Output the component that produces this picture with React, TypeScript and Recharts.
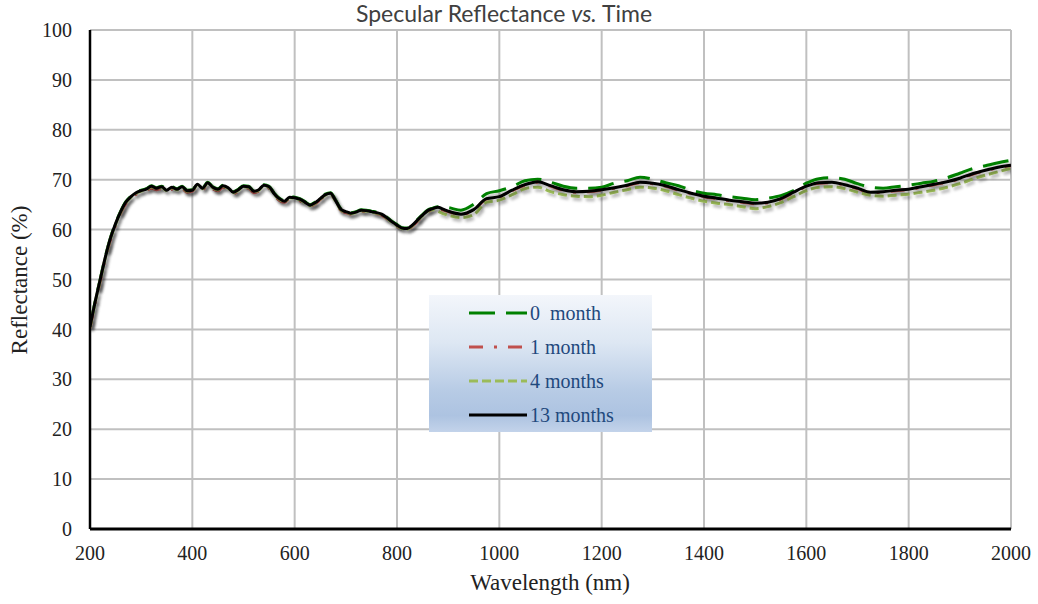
import React from "react";
import { LineChart, Line, XAxis, YAxis, CartesianGrid } from "recharts";

// wavelength (nm): 10 nm steps up to 890, then 25 nm steps
const wavelength = [
  200, 210, 220, 230, 240, 250, 260, 270, 280, 290,
  300, 310, 320, 330, 340, 350, 360, 370, 380, 390,
  400, 410, 420, 430, 440, 450, 460, 470, 480, 490,
  500, 510, 520, 530, 540, 550, 560, 570, 580, 590,
  600, 610, 620, 630, 640, 650, 660, 670, 680, 690,
  700, 710, 720, 730, 740, 750, 760, 770, 780, 790,
  800, 810, 820, 830, 840, 850, 860, 870, 880, 890,
  900, 925, 950, 975, 1000, 1025, 1050, 1075, 1100, 1125,
  1150, 1175, 1200, 1225, 1250, 1275, 1300, 1325, 1350, 1375,
  1400, 1425, 1450, 1475, 1500, 1525, 1550, 1575, 1600, 1625,
  1650, 1675, 1700, 1725, 1750, 1775, 1800, 1825, 1850, 1875,
  1900, 1925, 1950, 1975, 2000,
];

const month0 = [
  40.6, 45.6, 50.1, 54.6, 58.4, 61.3, 63.7, 65.6, 66.7, 67.5,
  67.9, 68.2, 68.8, 68.4, 68.7, 68.0, 68.6, 68.2, 68.7, 67.9,
  68.0, 69.2, 68.4, 69.5, 68.6, 68.2, 68.9, 68.5, 67.6, 68.1,
  68.8, 68.7, 67.8, 68.1, 69.0, 68.7, 67.3, 66.3, 65.8, 66.6,
  66.5, 66.2, 65.6, 65.0, 65.5, 66.3, 67.1, 67.4, 65.9, 64.2,
  63.7, 63.4, 63.6, 64.0, 63.9, 63.7, 63.5, 63.2, 62.5, 61.7,
  61.0, 60.4, 60.3, 61.0, 62.0, 63.0, 63.9, 64.3, 64.6, 64.5,
  64.4, 63.9, 65.1, 67.2, 67.8, 68.6, 69.8, 70.1, 69.5, 68.7,
  68.3, 68.3, 68.5, 69.3, 69.8, 70.5, 70.1, 69.4, 68.8, 67.9,
  67.3, 67.0, 66.6, 66.3, 66.0, 66.3, 66.8, 67.8, 69.3, 70.2,
  70.4, 70.1, 69.2, 68.5, 68.3, 68.6, 68.9, 69.3, 69.7, 70.4,
  71.3, 72.2, 72.8, 73.4, 73.9,
];

const month1 = [
  40.3, 45.2, 49.7, 54.2, 58.0, 60.9, 63.3, 65.2, 66.3, 67.1,
  67.5, 67.8, 68.3, 68.0, 68.2, 67.6, 68.1, 67.8, 68.2, 67.5,
  67.7, 68.8, 68.0, 69.1, 68.2, 67.8, 68.5, 68.1, 67.2, 67.7,
  68.4, 68.3, 67.4, 67.7, 68.6, 68.3, 66.9, 65.9, 65.5, 66.2,
  66.1, 65.8, 65.2, 64.7, 65.2, 66.0, 66.8, 67.1, 65.6, 63.9,
  63.4, 63.1, 63.3, 63.7, 63.6, 63.4, 63.2, 62.9, 62.2, 61.4,
  60.7, 60.1, 60.0, 60.7, 61.7, 62.7, 63.6, 64.0, 64.3, 63.9,
  63.6, 63.0, 63.9, 66.1, 66.5, 67.8, 68.9, 69.5, 68.7, 67.9,
  67.5, 67.6, 67.9, 68.3, 68.8, 69.4, 69.2, 68.7, 67.9, 67.2,
  66.6, 66.2, 65.8, 65.5, 65.2, 65.4, 66.1, 67.4, 68.6, 69.3,
  69.4, 68.9, 68.2, 67.4, 67.5, 67.8, 68.0, 68.5, 69.0, 69.5,
  70.2, 71.1, 71.8, 72.4, 72.8,
];

const month4 = [
  40.4, 45.4, 49.9, 54.4, 58.2, 61.1, 63.5, 65.4, 66.5, 67.3,
  67.7, 68.0, 68.6, 68.2, 68.5, 67.8, 68.4, 68.0, 68.5, 67.7,
  67.8, 69.0, 68.2, 69.3, 68.4, 68.0, 68.7, 68.3, 67.4, 67.9,
  68.6, 68.5, 67.6, 67.9, 68.8, 68.5, 67.1, 66.1, 65.6, 66.4,
  66.3, 66.0, 65.4, 64.8, 65.3, 66.1, 66.9, 67.2, 65.7, 64.0,
  63.5, 63.2, 63.4, 63.8, 63.7, 63.5, 63.3, 63.0, 62.3, 61.5,
  60.8, 60.2, 60.1, 60.8, 61.8, 62.8, 63.7, 64.0, 63.7, 63.2,
  62.9, 62.4, 63.0, 65.5, 65.9, 67.0, 68.2, 68.5, 67.6, 67.0,
  66.7, 66.6, 66.9, 67.5, 68.0, 68.5, 68.3, 67.8, 67.0, 66.3,
  65.7, 65.3, 65.0, 64.6, 64.2, 64.6, 65.4, 66.6, 67.8, 68.5,
  68.6, 68.2, 67.5, 66.9, 66.7, 66.9, 67.1, 67.5, 67.9, 68.5,
  69.2, 70.1, 70.9, 71.6, 72.3,
];

const month13 = [
  40.5, 45.5, 50.0, 54.5, 58.3, 61.2, 63.6, 65.5, 66.6, 67.4,
  67.8, 68.1, 68.7, 68.3, 68.6, 67.9, 68.5, 68.1, 68.6, 67.8,
  67.9, 69.1, 68.3, 69.4, 68.5, 68.1, 68.8, 68.4, 67.5, 68.0,
  68.7, 68.6, 67.7, 68.0, 68.9, 68.6, 67.2, 66.2, 65.7, 66.5,
  66.4, 66.1, 65.5, 64.9, 65.4, 66.2, 67.0, 67.3, 65.8, 64.1,
  63.6, 63.3, 63.5, 63.9, 63.8, 63.6, 63.4, 63.1, 62.4, 61.6,
  60.9, 60.3, 60.2, 60.9, 61.9, 62.9, 63.8, 64.2, 64.5, 64.1,
  63.7, 63.1, 64.0, 66.2, 66.6, 67.9, 69.0, 69.6, 68.8, 68.0,
  67.6, 67.7, 68.0, 68.4, 68.9, 69.5, 69.3, 68.8, 68.0, 67.3,
  66.7, 66.3, 65.9, 65.6, 65.3, 65.5, 66.2, 67.5, 68.7, 69.4,
  69.5, 69.0, 68.3, 67.5, 67.6, 67.9, 68.1, 68.6, 69.1, 69.6,
  70.3, 71.2, 71.9, 72.5, 72.9,
];

const xTicks = [200, 400, 600, 800, 1000, 1200, 1400, 1600, 1800, 2000];
const yTicks = [0, 10, 20, 30, 40, 50, 60, 70, 80, 90, 100];

const series = [
  { key: "m0", name: "0  month", color: "#008000", dash: "26 11" },
  { key: "m1", name: "1 month", color: "#c0504d", dash: "14 11 3 11" },
  { key: "m4", name: "4 months", color: "#9bbb59", dash: "9 4" },
  { key: "m13", name: "13 months", color: "#000000", dash: undefined as string | undefined },
];

const data = wavelength.map((w, i) => ({
  w,
  m0: month0[i],
  m1: month1[i],
  m4: month4[i],
  m13: month13[i],
}));

const serif = "Liberation Serif, DejaVu Serif, serif";

const LegendBox = () => (
  <div
    style={{
      position: "absolute",
      left: 429,
      top: 295,
      width: 223,
      height: 137,
      boxSizing: "border-box",
      background: "linear-gradient(#f3f6fb 0%, #dde7f3 35%, #b7cbe5 70%, #adc3e1 88%, #c3d3ea 100%)",
      paddingTop: 1,
    }}
  >
    {series.map((s) => (
      <div key={s.key} style={{ display: "flex", alignItems: "center", height: 34 }}>
        <svg width={101} height={10} style={{ display: "block" }}>
          <line x1={40} y1={5} x2={98} y2={5} stroke={s.color} strokeWidth={3} strokeDasharray={s.dash} />
        </svg>
        <span style={{ fontFamily: serif, fontSize: 20, color: "#1f497d", whiteSpace: "pre" }}>{s.name}</span>
      </div>
    ))}
  </div>
);

const App: React.FC = () => (
  <div style={{ position: "absolute", left: 0, top: 0, width: 1038, height: 604, background: "#fff" }}>
    <style>{`.recharts-line-curve { filter: url(#lineShadow); }`}</style>
    <svg width={0} height={0} style={{ position: "absolute" }}>
      <defs>
        <filter id="lineShadow" x="-10%" y="-10%" width="120%" height="130%">
          <feDropShadow dx="2" dy="3" stdDeviation="1.8" floodColor="#000" floodOpacity="0.3" />
        </filter>
      </defs>
    </svg>
    <div
      style={{
        position: "absolute",
        left: 0,
        width: 1038,
        top: 0,
        textAlign: "center",
        fontFamily: "Lato, 'Open Sans', sans-serif",
        fontSize: 23,
        color: "#404040",
        lineHeight: "26px",
        transform: "translateX(-15px)",
      }}
    >
      Specular Reflectance <i>vs.</i> Time
    </div>
    <LineChart width={1038} height={604} data={data} margin={{ top: 30, right: 27, bottom: 0, left: 0 }}>
      <CartesianGrid stroke="#c0c0c0" strokeWidth={2} horizontalValues={yTicks} verticalValues={xTicks} />
      <XAxis
        dataKey="w"
        type="number"
        domain={[200, 2000]}
        ticks={xTicks}
        height={75}
        tickLine={false}
        tickSize={0}
        tickMargin={17}
        axisLine={{ stroke: "#000", strokeWidth: 3 }}
        tick={{ fontFamily: serif, fontSize: 20, fill: "#222" }}
        allowDataOverflow
      />
      <YAxis
        type="number"
        domain={[0, 100]}
        ticks={yTicks}
        width={90}
        tickLine={false}
        tickSize={0}
        tickMargin={18}
        axisLine={{ stroke: "#000", strokeWidth: 2.5 }}
        tick={{ fontFamily: serif, fontSize: 20, fill: "#222" }}
        allowDataOverflow
      />
      {series.map((s) => (
        <Line
          key={s.key}
          dataKey={s.key}
          name={s.name}
          type="monotone"
          stroke={s.color}
          strokeWidth={3}
          strokeDasharray={s.dash}
          dot={false}
          activeDot={false}
          isAnimationActive={false}
        />
      ))}
    </LineChart>
    <LegendBox />
    <div
      style={{
        position: "absolute",
        left: 20,
        top: 280,
        transform: "translate(-50%, -50%) rotate(-90deg)",
        fontFamily: serif,
        fontSize: 23,
        color: "#222",
        whiteSpace: "nowrap",
      }}
    >
      Reflectance (%)
    </div>
    <div
      style={{
        position: "absolute",
        left: 550,
        top: 583,
        transform: "translate(-50%, -50%)",
        fontFamily: serif,
        fontSize: 23,
        color: "#222",
        whiteSpace: "nowrap",
      }}
    >
      Wavelength (nm)
    </div>
  </div>
);

export default App;
